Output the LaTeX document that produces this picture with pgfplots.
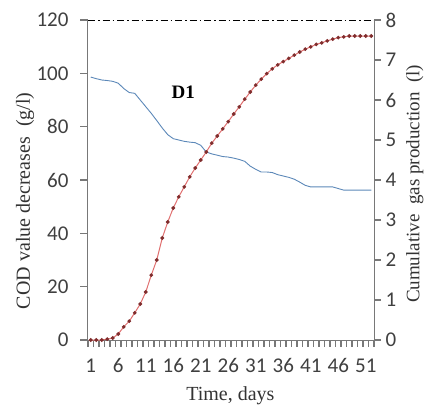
\documentclass[border=0pt]{standalone}
\usepackage{fontspec}
\setmainfont{Liberation Serif}
\newfontfamily\tickfont{Carlito}
\usepackage{pgfplots}
\pgfplotsset{compat=1.18}
\definecolor{codblue}{RGB}{92,136,184}
\definecolor{gasred}{RGB}{224,112,112}
\definecolor{gasdark}{RGB}{128,45,45}
\definecolor{axgrey}{RGB}{120,120,120}
\tikzset{lab/.style={font=\fontsize{20}{22}\selectfont, text=black!80}}
\begin{document}
\begin{tikzpicture}
\pgfplotsset{
  base/.style={scale only axis, width=286pt, height=320pt, xmin=0.5, xmax=52.5,
    /pgf/number format/assume math mode=true,
    ticklabel style={font=\tickfont\fontsize{21}{21}\selectfont, text=black!75},
    axis line style={axgrey, line width=1pt},
    major tick length=0pt, minor tick length=0pt,
  },
}
\begin{axis}[base, ymin=0, ymax=120, ytick={0,20,...,120},
  axis y line*=left, axis x line*=bottom, clip=false,
  yticklabel style={xshift=-16pt},
  xtick={0.5,1.5,...,52.5},
  xticklabels={1,,,,,6,,,,,11,,,,,16,,,,,21,,,,,26,,,,,31,,,,,36,,,,,41,,,,,46,,,,,51,,},
  xticklabel style={xshift=2.75pt, yshift=-15pt},
  ylabel={COD value decreases\ \ (g/l)},
  xlabel={Time, days},
  every axis y label/.style={lab, at={(axis description cs:-0.220,0.435)}, rotate=90, anchor=center},
  every axis x label/.style={lab, at={(axis description cs:0.498,-0.175)}, anchor=center},
]
\coordinate (sw) at (rel axis cs:0,0);
\coordinate (ne) at (rel axis cs:1,1);
\pgfplotsinvokeforeach{0.5,1.5,...,52.5}{\draw[axgrey, line width=1.1pt] (axis cs:#1,0) -- ++(0pt,-7pt);}
\pgfplotsinvokeforeach{0,20,...,120}{\draw[axgrey, line width=1.1pt] (axis cs:0.5,#1) -- ++(-8pt,0pt);}
\addplot[black, line width=0.8pt, dash pattern=on 7pt off 3pt on 1.5pt off 3pt] coordinates {(0.5,120) (52.5,120)};
\addplot[codblue, line width=0.9pt, no marks] coordinates {
(1,98.6)(2,98)(3,97.5)(4,97.3)(5,97)(6,96.3)(7,94.3)(8,92.8)(9,92.5)(10,90)
(11,87.5)(12,85)(13,82.3)(14,79.5)(15,77)(16,75.5)(17,75)(18,74.5)(19,74.2)(20,74)
(21,73)(22,70.5)(23,69.8)(24,69.3)(25,68.8)(26,68.6)(27,68.2)(28,67.7)(29,67)(30,65.2)
(31,64)(32,63)(33,63)(34,62.8)(35,62)(36,61.5)(37,61)(38,60.3)(39,59.2)(40,58)
(41,57.4)(42,57.4)(43,57.4)(44,57.4)(45,57.4)(46,56.8)(47,56.2)(48,56.2)(49,56.2)(50,56.2)
(51,56.2)(52,56.2)};
\node[font=\bfseries\fontsize{19}{19}\selectfont] at (axis cs:17.8,93) {D1};
\end{axis}
\begin{axis}[base, ymin=0, ymax=8, ytick={0,1,...,8},
  axis y line*=right, axis x line=none, clip=false,
  yticklabel style={xshift=8pt},
  ylabel={Cumulative\ \ gas production\ \ (l)},
  every axis y label/.style={lab, font=\fontsize{19}{21}\selectfont, at={(axis description cs:1.143,0.4875)}, rotate=90, anchor=center},
]
\pgfplotsinvokeforeach{0,1,...,8}{\draw[axgrey, line width=1.1pt] (axis cs:52.5,#1) -- ++(7pt,0pt);}
\addplot[gasred, line width=1pt, mark=*, mark size=1.3pt, mark options={draw=gasdark, fill=gasdark}] coordinates {
(1,0)(2,0)(3,0)(4,0.02)(5,0.05)(6,0.15)(7,0.33)(8,0.47)(9,0.68)(10,0.9)
(11,1.2)(12,1.62)(13,2.0)(14,2.55)(15,2.95)(16,3.3)(17,3.58)(18,3.83)(19,4.08)(20,4.3)
(21,4.5)(22,4.7)(23,4.92)(24,5.1)(25,5.28)(26,5.46)(27,5.65)(28,5.83)(29,6.02)(30,6.2)
(31,6.37)(32,6.52)(33,6.66)(34,6.78)(35,6.88)(36,6.96)(37,7.04)(38,7.12)(39,7.2)(40,7.27)
(41,7.33)(42,7.39)(43,7.43)(44,7.48)(45,7.52)(46,7.56)(47,7.58)(48,7.6)(49,7.6)(50,7.6)
(51,7.6)(52,7.6)};
\end{axis}
\pgfresetboundingbox
\path ([shift={(-88pt,-67pt)}]sw) rectangle ([shift={(61pt,20pt)}]ne);
\end{tikzpicture}
\end{document}
